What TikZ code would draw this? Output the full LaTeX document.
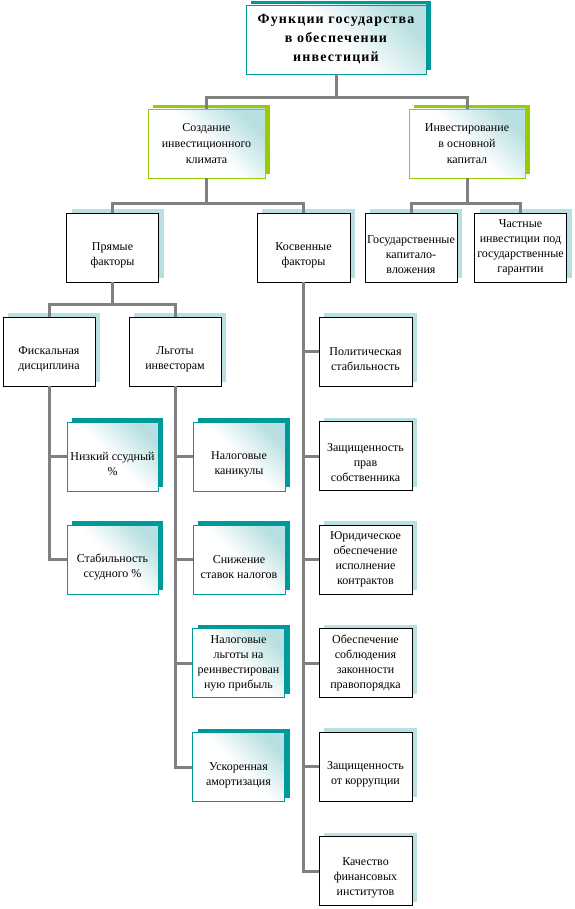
\documentclass[tikz,border=0pt]{standalone}
\usepackage{fontspec}
\setmainfont{Liberation Serif}
\usepackage{tikz}
\usetikzlibrary{shadows}

\definecolor{tealc}{HTML}{009999}
\definecolor{greenc}{HTML}{99CC00}
\definecolor{paleblue}{HTML}{B8DFE1}
\definecolor{linkgray}{HTML}{808080}

\begin{document}
\begin{tikzpicture}[x=1pt,y=-1pt,
  every node/.style={align=center,inner sep=1pt,font=\fontsize{12}{15}\selectfont},
  fancybox/.style={draw=#1,line width=.8pt,minimum height=69pt,
    top color=paleblue,bottom color=white,middle color=white,shading angle=-45,
    drop shadow={shadow xshift=5pt,shadow yshift=4pt,fill=#1,opacity=1}},
  plainbox/.style={draw=black,line width=.8pt,fill=white,minimum height=69pt,minimum width=93pt,
    drop shadow={shadow xshift=5pt,shadow yshift=4pt,fill=paleblue,opacity=1}},
  two/.style={text height=39pt},
  three/.style={text height=52pt},
  link/.style={draw=linkgray,line width=3pt}]
 \useasboundingbox (0,0) rectangle (574,909);
 % top level
 \node[fancybox=tealc,minimum width=180pt,
   font=\fontsize{14}{19}\selectfont\bfseries\addfontfeature{LetterSpace=8}]
   (top) at (336,39.5) {Функции государства\\в обеспечении\\инвестиций};
 \node[fancybox=greenc,minimum width=117pt,font=\fontsize{12}{16}\selectfont] (climate) at (206.5,143.5)
   {Создание\\инвестиционного\\климата};
 \node[fancybox=greenc,minimum width=116pt,font=\fontsize{12}{16}\selectfont] (capital) at (467,143.5)
   {Инвестирование\\в основной\\капитал};
 % factors and investments
 \node[plainbox,two,minimum width=92pt] (direct) at (112.5,247.5) {Прямые\\факторы};
 \node[plainbox,two] (indirect) at (303.5,247.5) {Косвенные\\факторы};
 \node[plainbox,three,minimum width=92pt] (stateinv) at (411,247.5) {Государственные\\капитало-\\вложения};
 \node[plainbox,minimum width=92pt] (private) at (520.5,247.5) {Частные\\инвестиции под\\государственные\\гарантии};
 \node[plainbox,two,minimum width=92pt] (fiscal) at (49,351.5) {Фискальная\\дисциплина};
 \node[plainbox,two,minimum width=92pt] (benefits) at (175,351.5) {Льготы\\инвесторам};
 % direct factors
 \node[fancybox=tealc,two,minimum width=91pt] (lowrate) at (112.5,456.5) {Низкий ссудный\\\%};
 \node[fancybox=tealc,two,minimum width=91pt] (stablerate) at (112.5,559.5) {Стабильность\\ссудного \%};
 \node[fancybox=tealc,two,minimum width=92pt] (holidays) at (239,456.5) {Налоговые\\каникулы};
 \node[fancybox=tealc,two,minimum width=92pt] (taxcut) at (239,559.5) {Снижение\\ставок налогов};
 \node[fancybox=tealc,minimum width=92pt] (reinvest) at (238.5,663) {Налоговые\\льготы на\\реинвестирован\\ную прибыль};
 \node[fancybox=tealc,two,minimum width=92pt] (amort) at (238.5,767) {Ускоренная\\амортизация};
 % indirect factors
 \node[plainbox,two] (political) at (365.5,351.5) {Политическая\\стабильность};
 \node[plainbox,three] (property) at (365.5,456) {Защищенность\\прав\\собственника};
 \node[plainbox] (contracts) at (365.5,559.5) {Юридическое\\обеспечение\\исполнение\\контрактов};
 \node[plainbox] (laworder) at (365.5,663) {Обеспечение\\соблюдения\\законности\\правопорядка};
 \node[plainbox,two] (corruption) at (365.5,766.5) {Защищенность\\от коррупции};
 \node[plainbox,three] (finance) at (365.5,871) {Качество\\финансовых\\институтов};
 % connectors
 \draw[link] (top.south) -- ++(0,23) -| (climate.north);
 \draw[link] (top.south) -- ++(0,23) -| (capital.north);
 \draw[link] (climate.south) -- ++(0,25) -| (direct.north);
 \draw[link] (climate.south) -- ++(0,25) -| (indirect.north);
 \draw[link] (capital.south) -- ++(0,25) -| (stateinv.north);
 \draw[link] (capital.south) -- ++(0,25) -| (private.north);
 \draw[link] (direct.south) -- ++(0,22) -| (fiscal.north);
 \draw[link] (direct.south) -- ++(0,22) -| (benefits.north);
 \foreach \b in {lowrate,stablerate}
   \draw[link] (fiscal.south) |- (\b.west);
 \foreach \b in {holidays,taxcut,reinvest,amort}
   \draw[link] (benefits.south) |- (\b.west);
 \foreach \b in {political,property,contracts,laworder,corruption,finance}
   \draw[link] (indirect.south) |- (\b.west);
\end{tikzpicture}
\end{document}
